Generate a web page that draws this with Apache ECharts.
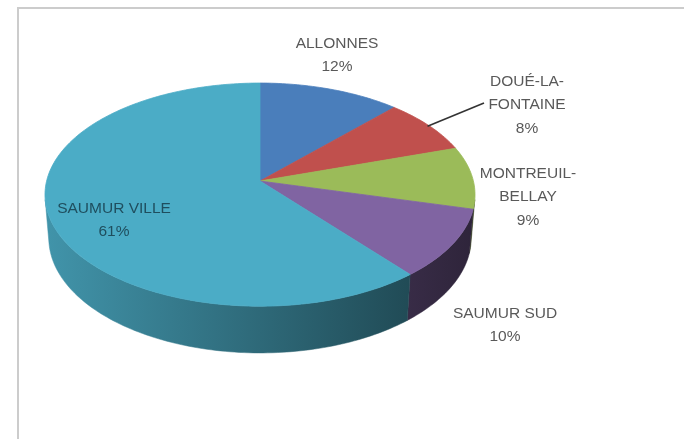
<!DOCTYPE html>
<html>
<head>
<meta charset="utf-8">
<script src="https://cdn.jsdelivr.net/npm/echarts@6/dist/echarts.min.js"></script>
<style>
html, body { margin: 0; background: #fff; }
#chart { width: 684px; height: 439px; }
</style>
</head>
<body>
<div id="chart"></div>
<script>
// data
const communes = ['ALLONNES', 'DOUÉ-LA-FONTAINE', 'MONTREUIL-BELLAY', 'SAUMUR SUD', 'SAUMUR VILLE'];
const labelText = ['ALLONNES', 'DOUÉ-LA-\nFONTAINE', 'MONTREUIL-\nBELLAY', 'SAUMUR SUD', 'SAUMUR VILLE'];
const shares = [12, 8, 9, 10, 61];
const colors = ['#4a7ebb', '#c0504d', '#9bbb59', '#8064a2', '#4bacc6'];

// 3d pie seen in perspective: apex on screen, focal scale, camera distance, tilt, thickness (radius = 1)
const view = { cx: 260, cy: 181, k: 1498, dist: 7.02, tilt: 31 * Math.PI / 180, thick: 0.241 };
// centre of each label block, and which one gets a leader line
const labelAt = [[337, 55], [527, 105], [528, 197], [505, 325], [114, 220]];
const labelColor = ['#595959', '#595959', '#595959', '#595959', '#1f4e5e'];
const leaderEnd = [null, [484, 103], null, null, null];

const total = shares.reduce((a, b) => a + b, 0);
const starts = [];
shares.reduce((acc, v, i) => { starts[i] = acc; return acc + v; }, 0);

const sa = Math.sin(view.tilt), ca = Math.cos(view.tilt);

// theta clockwise from 12 o'clock, r radius, h height (0 = top face)
function proj(theta, r, h) {
  const x = r * Math.sin(theta), z = r * Math.cos(theta);
  const ys = z * sa + h * ca;
  const d = view.dist + z * ca - h * sa;
  return [view.cx + view.k * x / d, view.cy - view.k * ys / d];
}
function arc(a0, a1, h) {
  const n = Math.max(2, Math.ceil(Math.abs(a1 - a0) / 0.02));
  const out = [];
  for (let k = 0; k <= n; k++) out.push(proj(a0 + (a1 - a0) * k / n, 1, h));
  return out;
}
function shade(hex, f) {
  const n = parseInt(hex.slice(1), 16);
  const r = Math.round(((n >> 16) & 255) * f);
  const g = Math.round(((n >> 8) & 255) * f);
  const b = Math.round((n & 255) * f);
  return 'rgb(' + r + ',' + g + ',' + b + ')';
}

// the outer wall faces the camera where cos(theta) < -1 / (dist * cos(tilt))
const wallFrom = Math.acos(-1 / (view.dist * ca));
const wallTo = 2 * Math.PI - wallFrom;

function renderItem(params, api) {
  const i = params.dataIndex;
  const v = api.value(0);
  const a0 = starts[i] / total * 2 * Math.PI;
  const a1 = a0 + v / total * 2 * Math.PI;
  const children = [];

  const s0 = Math.max(a0, wallFrom);
  const s1 = Math.min(a1, wallTo);
  if (s1 > s0) {
    const left = proj(wallTo, 1, 0)[0], right = proj(wallFrom, 1, 0)[0];
    const side = new echarts.graphic.LinearGradient(left, 0, right, 0, [
      { offset: 0, color: shade(colors[i], 0.86) },
      { offset: 1, color: shade(colors[i], 0.36) }
    ], true);
    children.push({
      type: 'polygon',
      shape: { points: arc(s0, s1, 0).concat(arc(s1, s0, -view.thick)) },
      style: { fill: side, stroke: side, lineWidth: 0.5 }
    });
  }

  children.push({
    type: 'polygon',
    shape: { points: [proj(0, 0, 0)].concat(arc(a0, a1, 0)) },
    style: { fill: colors[i], stroke: colors[i], lineWidth: 0.8 }
  });

  if (leaderEnd[i]) {
    const q = proj((a0 + a1) / 2, 0.99, 0);
    children.push({
      type: 'line',
      shape: { x1: q[0], y1: q[1], x2: leaderEnd[i][0], y2: leaderEnd[i][1] },
      style: { stroke: '#333', lineWidth: 1.6 },
      z2: 20
    });
  }

  children.push({
    type: 'text',
    x: labelAt[i][0],
    y: labelAt[i][1],
    z2: 30,
    style: {
      text: labelText[i] + '\n' + Math.round(v / total * 100) + '%',
      fill: labelColor[i],
      font: '15.5px "Liberation Sans", Arial, sans-serif',
      lineHeight: 23.5,
      align: 'center',
      verticalAlign: 'middle'
    }
  });

  return { type: 'group', children: children };
}

const chart = echarts.init(document.getElementById('chart'));
chart.setOption({
  animation: false,
  graphic: [{
    type: 'rect',
    shape: { x: 18, y: 8, width: 720, height: 480 },
    style: { fill: 'none', stroke: '#cccccc', lineWidth: 2 },
    silent: true
  }],
  series: [{
    type: 'custom',
    coordinateSystem: 'none',
    renderItem: renderItem,
    data: shares.map((v, i) => ({ name: communes[i], value: v }))
  }]
});
window.addEventListener('resize', () => chart.resize());
</script>
</body>
</html>
